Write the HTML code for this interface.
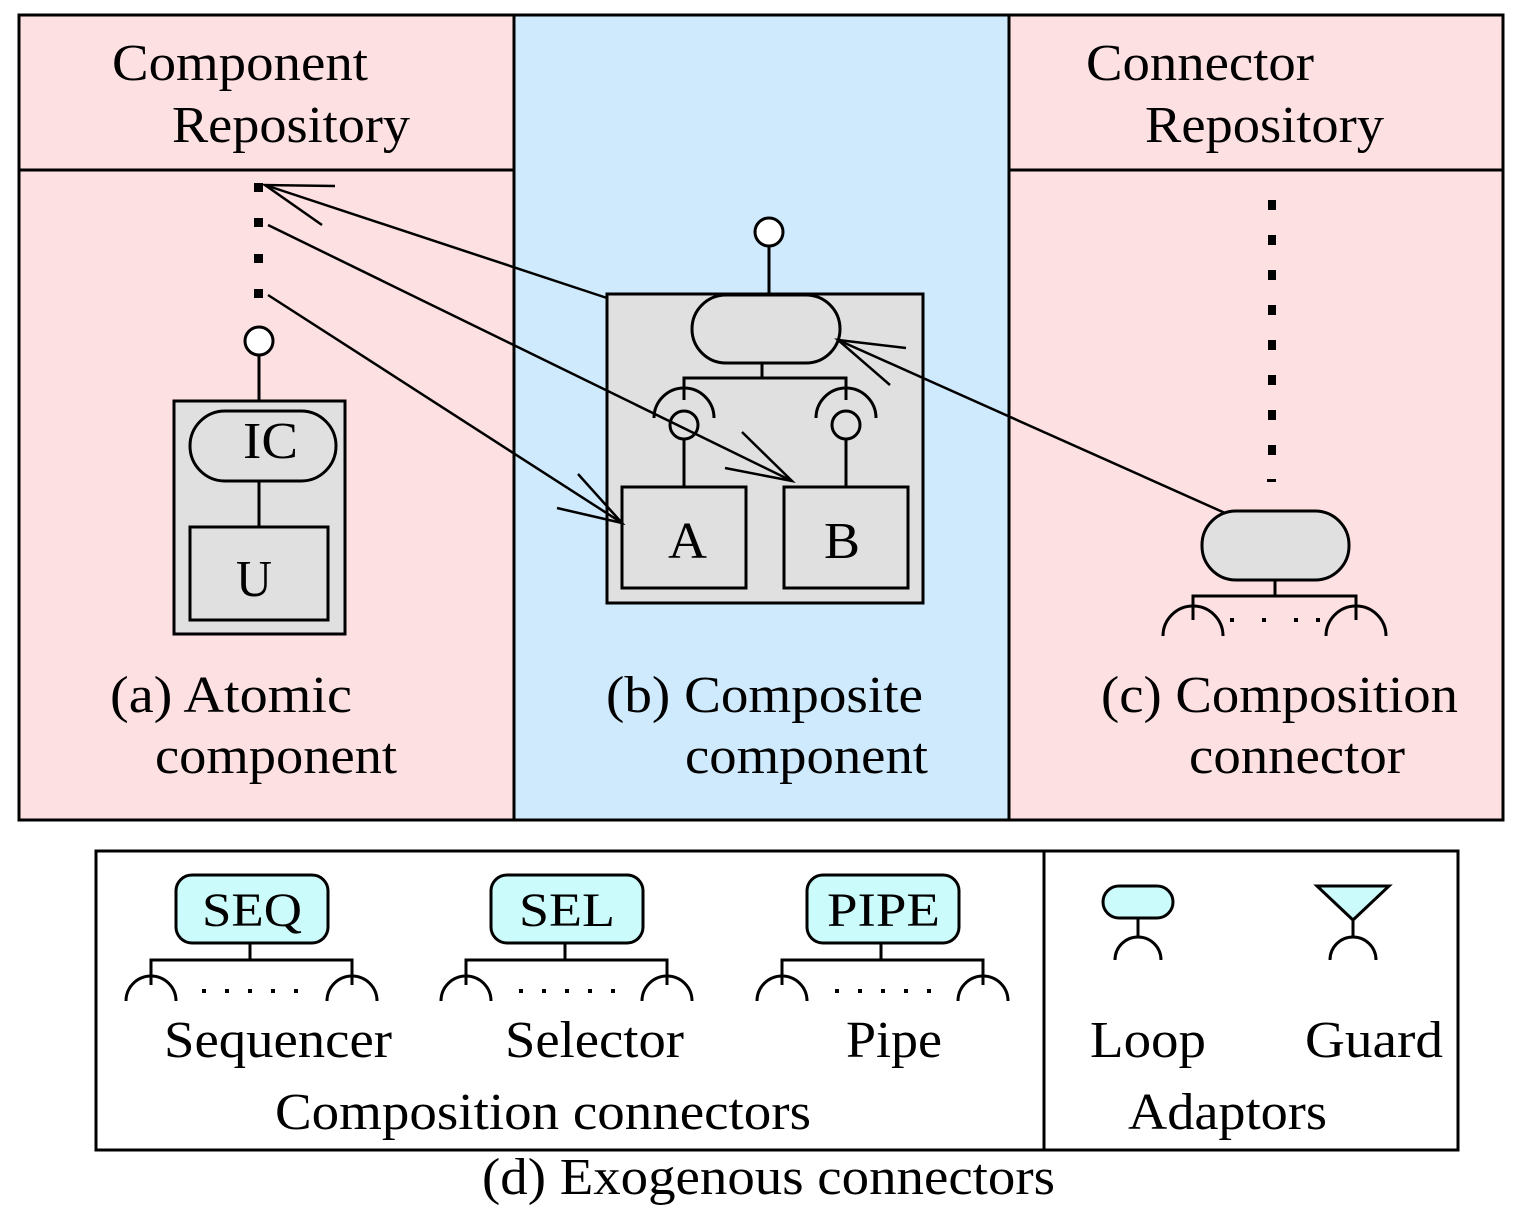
<!DOCTYPE html>
<html><head><meta charset="utf-8"><style>
html,body{margin:0;padding:0;background:#fff}
svg{display:block}
text{font-family:"Liberation Serif",serif;font-size:52px;fill:#000}
</style></head><body>
<svg width="1523" height="1215" viewBox="0 0 1523 1215" xmlns="http://www.w3.org/2000/svg">
<rect x="19" y="15" width="495" height="805" fill="#fde0e1"/>
<rect x="514" y="15" width="495" height="805" fill="#cfeafc"/>
<rect x="1009" y="15" width="494" height="805" fill="#fde0e1"/>
<g stroke="#000" stroke-width="3" fill="none">
<rect x="19" y="15" width="1484" height="805"/>
<line x1="514" y1="15" x2="514" y2="820"/>
<line x1="1009" y1="15" x2="1009" y2="820"/>
<line x1="19" y1="170" x2="514" y2="170"/>
<line x1="1009" y1="170" x2="1503" y2="170"/>
</g>
<text x="112" y="80" textLength="256" lengthAdjust="spacingAndGlyphs">Component</text>
<text x="172" y="142" textLength="238" lengthAdjust="spacingAndGlyphs">Repository</text>
<text x="1086" y="80" textLength="228" lengthAdjust="spacingAndGlyphs">Connector</text>
<text x="1145" y="142" textLength="239" lengthAdjust="spacingAndGlyphs">Repository</text>
<g fill="#000"><rect x="254" y="183" width="9" height="9"/><rect x="254" y="218" width="9" height="9"/><rect x="254" y="254" width="9" height="9"/><rect x="254" y="289" width="9" height="9"/></g>
<g stroke="#000" stroke-width="3">
<rect x="174" y="401" width="171" height="233" fill="#e0e0e0"/>
<line x1="259" y1="355" x2="259" y2="401"/>
<circle cx="259" cy="341" r="14" fill="#fff"/>
<rect x="190" y="411" width="146" height="70" rx="35" fill="#e0e0e0"/>
<line x1="259" y1="481" x2="259" y2="527"/>
<rect x="190" y="527" width="138" height="93" fill="#e0e0e0"/>
</g>
<text x="243" y="458" textLength="55" lengthAdjust="spacingAndGlyphs">IC</text>
<text x="236" y="596" textLength="36" lengthAdjust="spacingAndGlyphs">U</text>
<text x="110" y="712" textLength="242" lengthAdjust="spacingAndGlyphs">(a) Atomic</text>
<text x="155" y="773" textLength="242" lengthAdjust="spacingAndGlyphs">component</text>
<g stroke="#000" stroke-width="3">
<rect x="607" y="294" width="316" height="309" fill="#e0e0e0"/>
<line x1="769" y1="246" x2="769" y2="294"/>
<circle cx="769" cy="232" r="14" fill="#fff"/>
<rect x="692" y="295" width="148" height="68" rx="34" fill="#e0e0e0"/>
<polyline points="762,363 762,378" fill="none"/>
<polyline points="684,400 684,378 846,378 846,400" fill="none"/>
<path d="M654,418 A30,30 0 0 1 714,418" fill="none"/>
<path d="M816,418 A30,30 0 0 1 876,418" fill="none"/>
<circle cx="684" cy="425" r="14" fill="#e0e0e0"/>
<circle cx="846" cy="425" r="14" fill="#e0e0e0"/>
<line x1="684" y1="439" x2="684" y2="487"/>
<line x1="846" y1="439" x2="846" y2="487"/>
<rect x="622" y="487" width="124" height="101" fill="#e0e0e0"/>
<rect x="784" y="487" width="124" height="101" fill="#e0e0e0"/>
</g>
<text x="668" y="558" textLength="39" lengthAdjust="spacingAndGlyphs">A</text>
<text x="824" y="558" textLength="36" lengthAdjust="spacingAndGlyphs">B</text>
<text x="606" y="712" textLength="317" lengthAdjust="spacingAndGlyphs">(b) Composite</text>
<text x="685" y="773" textLength="243" lengthAdjust="spacingAndGlyphs">component</text>
<g fill="#000">
<rect x="1268" y="200" width="8" height="10"/><rect x="1268" y="235" width="8" height="10"/><rect x="1268" y="270" width="8" height="10"/><rect x="1268" y="305" width="8" height="10"/><rect x="1268" y="340" width="8" height="10"/><rect x="1268" y="375" width="8" height="10"/><rect x="1268" y="410" width="8" height="10"/><rect x="1268" y="445" width="8" height="10"/><rect x="1267" y="479" width="9" height="3"/>
</g>
<g stroke="#000" stroke-width="3" fill="none">
<rect x="1202" y="511" width="147" height="69" rx="34" fill="#e0e0e0"/>
<polyline points="1275,580 1275,596"/>
<polyline points="1193,620 1193,596 1356,596 1356,620"/>
<path d="M1163,636 A30,30 0 0 1 1223,636"/>
<path d="M1326,636 A30,30 0 0 1 1386,636"/>
</g>
<g fill="#000"><rect x="1230" y="618" width="4" height="4"/><rect x="1262" y="618" width="4" height="4"/><rect x="1294" y="618" width="4" height="4"/><rect x="1316" y="618" width="4" height="4"/></g>
<text x="1101" y="712" textLength="357" lengthAdjust="spacingAndGlyphs">(c) Composition</text>
<text x="1189" y="773" textLength="216" lengthAdjust="spacingAndGlyphs">connector</text>
<g stroke="#000" stroke-width="2.5" fill="none">
<line x1="607" y1="298" x2="265" y2="185"/>
<polyline points="335,186 265,185 322,225"/>
<line x1="268" y1="225" x2="792" y2="481"/>
<polyline points="742,432 792,481 725,468"/>
<line x1="268" y1="295" x2="622" y2="523"/>
<polyline points="578,474 622,523 557,508"/>
<line x1="1225" y1="513" x2="838" y2="340"/>
<polyline points="906,348 838,340 890,385"/>
</g>
<g stroke="#000" stroke-width="3" fill="none">
<rect x="96" y="851" width="1362" height="299"/>
<line x1="1044" y1="851" x2="1044" y2="1150"/>
</g>
<g stroke="#000" stroke-width="3" fill="none">
<rect x="176" y="875" width="152" height="68" rx="16" fill="#ccfbfb"/>
<polyline points="250,943 250,960"/>
<polyline points="151,985 151,960 352,960 352,985"/>
<path d="M126,1001 A25,25 0 0 1 176,1001"/><path d="M327,1001 A25,25 0 0 1 377,1001"/>
<rect x="491" y="875" width="152" height="68" rx="16" fill="#ccfbfb"/>
<polyline points="565,943 565,960"/>
<polyline points="466,985 466,960 667,960 667,985"/>
<path d="M441,1001 A25,25 0 0 1 491,1001"/><path d="M642,1001 A25,25 0 0 1 692,1001"/>
<rect x="807" y="875" width="152" height="68" rx="16" fill="#ccfbfb"/>
<polyline points="881,943 881,960"/>
<polyline points="782,985 782,960 983,960 983,985"/>
<path d="M757,1001 A25,25 0 0 1 807,1001"/><path d="M958,1001 A25,25 0 0 1 1008,1001"/>
<rect x="1103" y="886" width="70" height="32" rx="16" fill="#ccfbfb"/>
<line x1="1138" y1="918" x2="1138" y2="938"/>
<path d="M1115,960 A23,23 0 0 1 1161,960"/>
<polygon points="1317,886 1389,886 1353,920" fill="#ccfbfb"/>
<line x1="1353" y1="920" x2="1353" y2="938"/>
<path d="M1330,960 A23,23 0 0 1 1376,960"/>
</g>
<g fill="#000">
<rect x="202" y="989" width="4" height="4"/><rect x="225" y="989" width="4" height="4"/><rect x="248" y="989" width="4" height="4"/><rect x="271" y="989" width="4" height="4"/><rect x="294" y="989" width="4" height="4"/>
<rect x="519" y="989" width="4" height="4"/><rect x="542" y="989" width="4" height="4"/><rect x="565" y="989" width="4" height="4"/><rect x="588" y="989" width="4" height="4"/><rect x="611" y="989" width="4" height="4"/>
<rect x="835" y="989" width="4" height="4"/><rect x="858" y="989" width="4" height="4"/><rect x="881" y="989" width="4" height="4"/><rect x="904" y="989" width="4" height="4"/><rect x="927" y="989" width="4" height="4"/>
</g>
<text x="202" y="926" style="font-size:48px" textLength="100" lengthAdjust="spacingAndGlyphs">SEQ</text>
<text x="519" y="926" style="font-size:48px" textLength="96" lengthAdjust="spacingAndGlyphs">SEL</text>
<text x="827" y="926" style="font-size:48px" textLength="113" lengthAdjust="spacingAndGlyphs">PIPE</text>
<text x="164" y="1057" textLength="228" lengthAdjust="spacingAndGlyphs">Sequencer</text>
<text x="505" y="1057" textLength="179" lengthAdjust="spacingAndGlyphs">Selector</text>
<text x="846" y="1057" textLength="96" lengthAdjust="spacingAndGlyphs">Pipe</text>
<text x="1090" y="1057" textLength="116" lengthAdjust="spacingAndGlyphs">Loop</text>
<text x="1305" y="1057" textLength="138" lengthAdjust="spacingAndGlyphs">Guard</text>
<text x="275" y="1129" textLength="536" lengthAdjust="spacingAndGlyphs">Composition connectors</text>
<text x="1128" y="1129" textLength="199" lengthAdjust="spacingAndGlyphs">Adaptors</text>
<text x="482" y="1194" textLength="573" lengthAdjust="spacingAndGlyphs">(d) Exogenous connectors</text>
</svg>
</body></html>
